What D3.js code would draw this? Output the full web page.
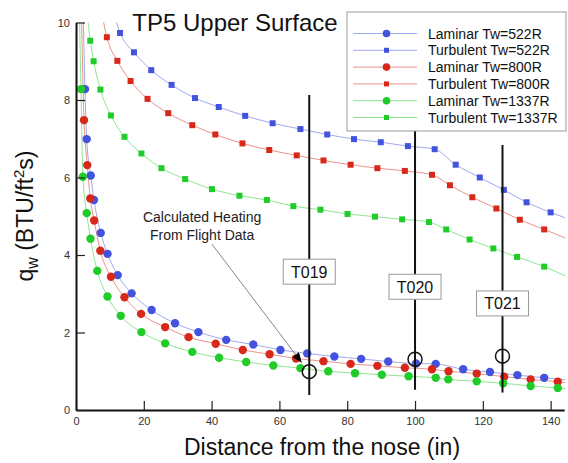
<!DOCTYPE html>
<html>
<head>
<meta charset="utf-8">
<script src="https://cdn.jsdelivr.net/npm/d3@7"></script>
<style>
  body { margin: 0; background: #fff; }
  text { font-family: "Liberation Sans", Arial, sans-serif; }
</style>
</head>
<body>
<div class="canvas"></div>
<script>
// values, [distance (in), q_w (BTU/ft^2 s)]
// first point of each run is where the curve leaves the top, last is where it leaves the right edge
const lam522 = [[2.1,10.3],[2.65,8.28],[3.16,6.99],[4.34,6.05],[5.31,5.42],[7.29,4.57],[9.29,4.03],[12.3,3.48],[16.4,3.01],[22.3,2.58],[29.2,2.24],[36.1,2.01],[44.3,1.81],[52.3,1.69],[60.3,1.55],[68.2,1.46],[76.2,1.38],[84.1,1.32],[92.1,1.25],[100.3,1.2],[106.1,1.19],[114.2,1.05],[122.1,0.98],[130.2,0.9],[138.1,0.83],[144.3,0.78]]
const turb522 = [[11.2,10.2],[13.0,9.73],[17.1,9.23],[22.2,8.77],[28.2,8.39],[35.1,8.05],[42.1,7.82],[49.9,7.59],[58.0,7.4],[66.2,7.25],[74.1,7.11],[82.0,6.99],[89.9,6.91],[97.9,6.81],[105.8,6.73],[112.0,6.33],[119.1,6.0],[126.2,5.68],[132.9,5.36],[140.0,5.1],[144.3,4.96]]
const lam800 = [[1.6,10.3],[2.36,7.48],[3.33,6.32],[4.22,5.46],[5.37,4.89],[7.17,4.11],[10.3,3.44],[14.3,2.91],[19.2,2.48],[26.3,2.14],[33.2,1.88],[41.2,1.71],[49.2,1.55],[57.1,1.44],[64.9,1.33],[73.0,1.26],[81.0,1.19],[88.9,1.14],[97.0,1.09],[105.0,1.05],[109.9,1.0],[118.2,0.94],[126.3,0.86],[134.1,0.79],[142.1,0.73],[144.3,0.71]]
const turb800 = [[7.7,10.2],[9.1,9.62],[12.2,9.01],[16.1,8.49],[21.1,8.03],[27.2,7.66],[34.3,7.35],[41.1,7.11],[49.1,6.88],[57.0,6.71],[65.1,6.57],[73.0,6.44],[81.0,6.33],[88.9,6.24],[97.0,6.17],[105.0,6.07],[110.3,5.8],[116.9,5.49],[124.0,5.2],[130.9,4.91],[138.1,4.66],[144.3,4.44]]
const lam1337 = [[1.0,10.3],[1.47,8.28],[2.04,6.02],[3.16,5.08],[4.28,4.42],[6.28,3.59],[9.29,2.93],[13.2,2.43],[19.3,2.01],[26.3,1.72],[34.3,1.5],[42.2,1.35],[50.2,1.24],[58.2,1.15],[66.2,1.08],[74.4,1.0],[82.3,0.95],[90.2,0.91],[98.1,0.87],[106.1,0.83],[109.8,0.79],[118.2,0.74],[126.0,0.69],[134.1,0.62],[142.1,0.57],[144.3,0.55]]
const turb1337 = [[3.3,10.2],[4.2,9.53],[5.2,9.0],[7.2,8.27],[10.3,7.6],[14.3,7.05],[19.3,6.62],[25.2,6.24],[32.2,5.96],[40.1,5.7],[48.2,5.53],[56.3,5.42],[64.1,5.26],[72.1,5.17],[80.1,5.06],[88.2,4.99],[96.2,4.92],[104.1,4.85],[109.2,4.66],[116.1,4.4],[123.1,4.17],[130.1,3.95],[138.1,3.7],[144.3,3.46]]

// calculated heating from flight data at the three thermocouples
const tcNames = ['T019', 'T020', 'T021']
const tcX = [68.8, 100.0, 125.8]
const tcQ = [0.99, 1.31, 1.39]

const seriesNames = ['Laminar Tw=522R', 'Turbulent Tw=522R', 'Laminar Tw=800R', 'Turbulent Tw=800R', 'Laminar Tw=1337R', 'Turbulent Tw=1337R']
const xTicks = [0, 20, 40, 60, 80, 100, 120, 140]
const yTicks = [0, 2, 4, 6, 8, 10]

const blue = '#4353dd'
const red = '#d8281a'
const green = '#1fcc28'

const series = [
    {name: seriesNames[0], data: lam522, color: blue, shape: 'circle'},
    {name: seriesNames[1], data: turb522, color: blue, shape: 'square'},
    {name: seriesNames[2], data: lam800, color: red, shape: 'circle'},
    {name: seriesNames[3], data: turb800, color: red, shape: 'square'},
    {name: seriesNames[4], data: lam1337, color: green, shape: 'circle'},
    {name: seriesNames[5], data: turb1337, color: green, shape: 'square'}
]

//define margins
const margin = {top: 22.5, left: 76}
const graphWidth = 488.2
const graphHeight = 387.5

const svg = d3.select('.canvas')
    .append('svg')
    .attr('width', 568)
    .attr('height', 463)

const graph = svg.append('g')
    .attr('transform', `translate(${margin.left}, ${margin.top})`)

//scales
const x = d3.scaleLinear().domain([0, 144]).range([0, graphWidth])
const y = d3.scaleLinear().domain([0, 10]).range([graphHeight, 0])

svg.append('defs').append('clipPath')
    .attr('id', 'plot-clip')
    .append('rect')
    .attr('x', 0).attr('y', 0)
    .attr('width', graphWidth + 2).attr('height', graphHeight)

const defs = svg.select('defs')
defs.append('marker')
    .attr('id', 'arrow')
    .attr('viewBox', '0 0 10 8')
    .attr('refX', 10).attr('refY', 4)
    .attr('markerWidth', 11).attr('markerHeight', 8)
    .attr('markerUnits', 'userSpaceOnUse')
    .attr('orient', 'auto')
    .append('path')
    .attr('d', 'M0,0 L10,4 L0,8 Z')
    .attr('fill', '#000')

// curves
const line = d3.line()
    .x(d => x(d[0]))
    .y(d => y(d[1]))
    .curve(d3.curveMonotoneX)

const curves = graph.append('g').attr('clip-path', 'url(#plot-clip)')
curves.selectAll('path')
    .data(series)
    .enter()
    .append('path')
    .attr('d', d => line(d.data))
    .attr('fill', 'none')
    .attr('stroke', d => d.color)
    .attr('stroke-opacity', 0.5)
    .attr('stroke-width', 1)

// markers only where the point is inside the axes
const inside = d => d[0] >= 0 && d[0] <= 144 && d[1] >= 0 && d[1] <= 10
series.forEach(s => {
    const pts = s.data.filter(inside)
    if (s.shape === 'circle') {
        graph.append('g').selectAll('circle')
            .data(pts)
            .enter()
            .append('circle')
            .attr('cx', d => x(d[0]))
            .attr('cy', d => y(d[1]))
            .attr('r', 4.2)
            .attr('fill', s.color)
    } else {
        graph.append('g').selectAll('rect')
            .data(pts)
            .enter()
            .append('rect')
            .attr('x', d => x(d[0]) - 3)
            .attr('y', d => y(d[1]) - 3)
            .attr('width', 6)
            .attr('height', 6)
            .attr('fill', s.color)
    }
})

// thermocouple stations: vertical line, label box, flight data circle
const tcTop = [8.13, 7.23, 6.84]
const tcBottom = [0.39, 0.52, 0.45]
const tcLabelY = [3.57, 3.18, 2.75]

const tc = graph.append('g').selectAll('g')
    .data(tcNames)
    .enter()
    .append('g')

tc.append('line')
    .attr('x1', (d, i) => x(tcX[i]))
    .attr('x2', (d, i) => x(tcX[i]))
    .attr('y1', (d, i) => y(tcTop[i]))
    .attr('y2', (d, i) => y(tcBottom[i]))
    .attr('stroke', '#111')
    .attr('stroke-width', 2)

tc.append('rect')
    .attr('x', (d, i) => x(tcX[i]) - 26)
    .attr('y', (d, i) => y(tcLabelY[i]) - 12.5)
    .attr('width', 52)
    .attr('height', 25)
    .attr('fill', '#fff')
    .attr('stroke', '#999')
    .attr('stroke-width', 1)

tc.append('text')
    .attr('x', (d, i) => x(tcX[i]))
    .attr('y', (d, i) => y(tcLabelY[i]) + 6)
    .attr('text-anchor', 'middle')
    .attr('font-size', 16)
    .attr('fill', '#111')
    .text(d => d)

tc.append('circle')
    .attr('cx', (d, i) => x(tcX[i]))
    .attr('cy', (d, i) => y(tcQ[i]))
    .attr('r', 7)
    .attr('fill', 'none')
    .attr('stroke', '#111')
    .attr('stroke-width', 1.5)

// annotation with arrow pointing at T019
graph.append('line')
    .attr('x1', x(40.1)).attr('y1', y(4.28))
    .attr('x2', x(66.6)).attr('y2', y(1.22))
    .attr('stroke', '#888')
    .attr('stroke-width', 1)
    .attr('marker-end', 'url(#arrow)')

const note = graph.append('text')
    .attr('text-anchor', 'middle')
    .attr('font-size', 14)
    .attr('fill', '#222')
note.append('tspan').attr('x', x(37.2)).attr('y', y(4.84)).text('Calculated Heating')
note.append('tspan').attr('x', x(37.2)).attr('y', y(4.40)).text('From Flight Data')

// axes, ticks point inward
const xAxisGroup = graph.append('g').attr('transform', `translate(0, ${graphHeight})`)
const yAxisGroup = graph.append('g')

xAxisGroup.call(d3.axisBottom(x).tickValues(d3.range(0, 145, 5).filter(v => v % 20)).tickSize(-5).tickSizeOuter(0).tickFormat(''))
xAxisGroup.call(d3.axisBottom(x).tickValues(xTicks).tickSize(-9).tickSizeOuter(0).tickPadding(7))
yAxisGroup.call(d3.axisLeft(y).tickValues(d3.range(0, 10.01, 0.5).filter(v => v % 2)).tickSize(-5).tickSizeOuter(0).tickFormat(''))
yAxisGroup.call(d3.axisLeft(y).tickValues(yTicks).tickSize(-9).tickSizeOuter(0).tickPadding(6))

graph.selectAll('.domain').attr('stroke', '#111').attr('stroke-width', 2)
graph.selectAll('.tick line').attr('stroke', '#222').attr('stroke-width', 1.2)
graph.selectAll('.tick text')
    .attr('font-family', '"Liberation Sans", Arial, sans-serif')
    .attr('font-size', 11)
    .attr('fill', '#333')

// titles
svg.append('text')
    .attr('x', 235).attr('y', 31)
    .attr('text-anchor', 'middle')
    .attr('font-size', 24)
    .attr('fill', '#111')
    .text('TP5 Upper Surface')

svg.append('text')
    .attr('x', 322).attr('y', 455)
    .attr('text-anchor', 'middle')
    .attr('font-size', 23)
    .attr('fill', '#111')
    .text('Distance from the nose (in)')

const yLabel = svg.append('text')
    .attr('transform', 'translate(33, 216) rotate(-90)')
    .attr('text-anchor', 'middle')
    .attr('font-size', 23)
    .attr('fill', '#111')
yLabel.append('tspan').text('q')
yLabel.append('tspan').attr('font-size', 16).attr('dy', 5).text('w')
yLabel.append('tspan').attr('dy', -5).text(' (BTU/ft')
yLabel.append('tspan').attr('font-size', 15).attr('dy', -9).text('2')
yLabel.append('tspan').attr('dy', 9).text('s)')

// legend
const legend = svg.append('g')
legend.append('rect')
    .attr('x', 347).attr('y', 12)
    .attr('width', 219).attr('height', 119)
    .attr('fill', '#fff')
    .attr('stroke', '#999')

const rows = legend.selectAll('g')
    .data(series)
    .enter()
    .append('g')
    .attr('transform', (d, i) => `translate(0, ${33.5 + i * 16.8})`)

rows.append('line')
    .attr('x1', 353).attr('x2', 417)
    .attr('stroke', d => d.color)
    .attr('stroke-opacity', 0.5)
rows.filter(d => d.shape === 'circle').append('circle')
    .attr('cx', 386.5).attr('r', 3.8)
    .attr('fill', d => d.color)
rows.filter(d => d.shape === 'square').append('rect')
    .attr('x', 384).attr('y', -2.5)
    .attr('width', 5).attr('height', 5)
    .attr('fill', d => d.color)
rows.append('text')
    .attr('x', 428).attr('y', 5)
    .attr('font-size', 14)
    .attr('fill', '#111')
    .text(d => d.name)
</script>
</body>
</html>
